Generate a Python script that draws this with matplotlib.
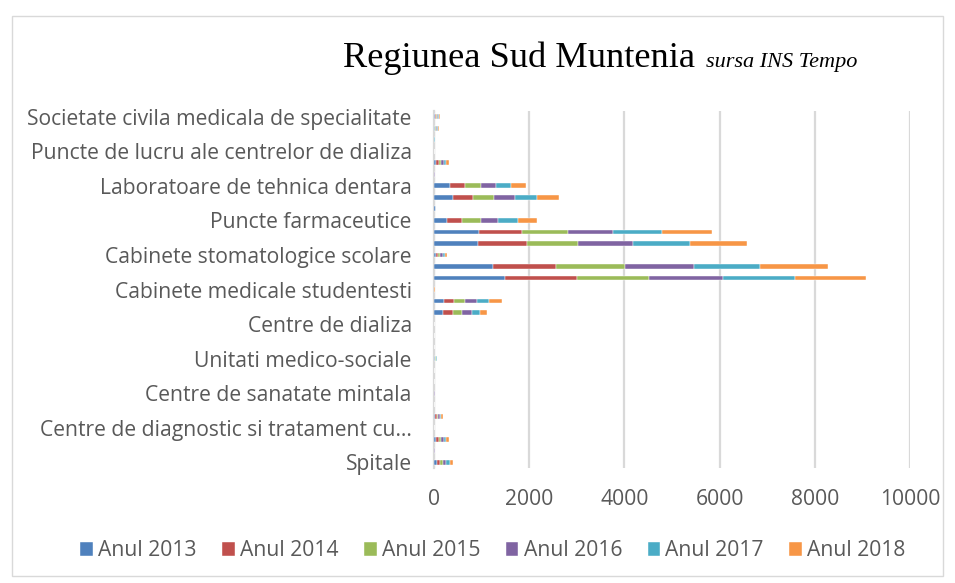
import matplotlib
matplotlib.use("Agg")
import matplotlib.pyplot as plt
import numpy as np
from matplotlib.patches import Rectangle

# categories, bottom to top (Excel draws the first category at the bottom)
categories = [
    "Spitale",
    "Ambulatorii integrate spitalului",
    "Ambulatorii de specialitate",
    "Centre de diagnostic si tratament cu…",
    "Centre medicale de specialitate",
    "Centre de sanatate cu paturi de spital",
    "Centre de sanatate mintala",
    "Centre de sanatate multifunctionale",
    "Sanatorii balneare",
    "Unitati medico-sociale",
    "Centre de transfuzie",
    "Preventorii",
    "Centre de dializa",
    "Cabinete medicale scolare",
    "Cabinete medicale de medicina generala",
    "Cabinete medicale studentesti",
    "Cabinete medicale de familie",
    "Cabinete medicale de specialitate",
    "Cabinete stomatologice scolare",
    "Cabinete stomatologice",
    "Cabinete medicale individuale",
    "Puncte farmaceutice",
    "Depozite farmaceutice",
    "Farmacii",
    "Laboratoare de tehnica dentara",
    "Laboratoare de analize medicale",
    "Laboratoare medicale",
    "Puncte de lucru ale centrelor de dializa",
    "Alte tipuri de cabinete medicale",
    "Alte tipuri de unitati sanitare",
    "Societate civila medicala de specialitate",
]

years = ["Anul 2013", "Anul 2014", "Anul 2015", "Anul 2016", "Anul 2017", "Anul 2018"]

anul_2013 = [64, 3, 50, 0, 30, 0, 3, 0, 0, 11, 0, 0, 0, 190, 204, 2,
             1495, 1242, 44, 933, 947, 281, 40, 407, 330, 3, 50, 0, 2, 15, 18]
anul_2014 = [65, 3, 52, 0, 31, 0, 3, 0, 0, 11, 0, 0, 0, 204, 218, 2,
             1502, 1326, 45, 1025, 912, 316, 2, 421, 323, 3, 52, 0, 2, 16, 19]
anul_2015 = [66, 3, 52, 0, 32, 0, 3, 0, 0, 12, 0, 0, 0, 197, 225, 2,
             1530, 1439, 45, 1074, 961, 386, 0, 435, 330, 3, 52, 0, 2, 17, 20]
anul_2016 = [67, 4, 53, 0, 32, 0, 4, 0, 0, 12, 0, 0, 0, 197, 253, 2,
             1544, 1460, 46, 1158, 947, 365, 0, 442, 330, 4, 53, 0, 2, 18, 20]
anul_2017 = [68, 4, 54, 0, 32, 0, 4, 0, 0, 12, 0, 0, 0, 168, 260, 2,
             1516, 1382, 45, 1179, 1025, 407, 0, 456, 302, 4, 54, 0, 4, 19, 21]
anul_2018 = [70, 3, 55, 0, 33, 0, 4, 0, 0, 12, 0, 0, 0, 154, 267, 2,
             1488, 1418, 45, 1200, 1039, 407, 0, 470, 316, 3, 55, 0, 10, 20, 22]

series = [anul_2013, anul_2014, anul_2015, anul_2016, anul_2017, anul_2018]
colors = ["#4F81BD", "#C0504D", "#9BBB59", "#8064A2", "#4BACC6", "#F79646"]

TEXT_GREY = "#595959"
GRID_GREY = "#D9D9D9"
LABEL_FONT = "Open Sans"
LABEL_SIZE = 15.2

fig = plt.figure(figsize=(9.55, 5.83), dpi=100)
ax = fig.add_axes([434 / 955, 1 - 468 / 583, (910 - 434) / 955, (468 - 111) / 583])

y = np.arange(len(categories))
left = np.zeros(len(categories))
for name, vals, col in zip(years, series, colors):
    vals = np.array(vals, dtype=float)
    ax.barh(y, vals, left=left, height=0.42, color=col, label=name,
            edgecolor="white", linewidth=0.3, zorder=3)
    left += vals

ax.set_xlim(0, 10000)
ax.set_ylim(-0.5, len(categories) - 0.5)
ax.set_xticks(np.arange(0, 10001, 2000))
ax.set_yticks(y[::3])
ax.set_yticklabels(categories[::3])

ax.grid(axis="x", color=GRID_GREY, linewidth=1.6, zorder=0)
ax.set_axisbelow(True)
for side in ["top", "right", "bottom"]:
    ax.spines[side].set_visible(False)
ax.spines["left"].set_color(GRID_GREY)
ax.spines["left"].set_linewidth(1.6)

ax.tick_params(axis="both", length=0, labelcolor=TEXT_GREY, labelsize=LABEL_SIZE)
ax.tick_params(axis="x", pad=15)
ax.tick_params(axis="y", pad=16)
for lab in ax.get_xticklabels() + ax.get_yticklabels():
    lab.set_family(LABEL_FONT)

# title in two parts, like the original
fig.text(343 / 955, 1 - 67 / 583, "Regiunea Sud Muntenia", family="Liberation Serif",
         fontsize=26.2, color="black", ha="left", va="baseline")
fig.text(706 / 955, 1 - 67 / 583, "sursa INS Tempo", family="Liberation Serif",
         style="italic", fontsize=16, color="black", ha="left", va="baseline")

leg = fig.legend(loc="center", bbox_to_anchor=(493 / 955, 1 - 551 / 583), ncol=6,
                 frameon=False, handlelength=0.6, handleheight=0.6, handletextpad=0.25,
                 columnspacing=1.2, prop={"family": LABEL_FONT, "size": LABEL_SIZE})
for t in leg.get_texts():
    t.set_color(TEXT_GREY)

# light border around the chart area
fig.patches.append(Rectangle((12 / 955, 1 - 576 / 583), (943 - 12) / 955, (576 - 16) / 583,
                             transform=fig.transFigure, fill=False,
                             edgecolor=GRID_GREY, linewidth=1.0))

fig.savefig("out.png", dpi=100, facecolor="white")
